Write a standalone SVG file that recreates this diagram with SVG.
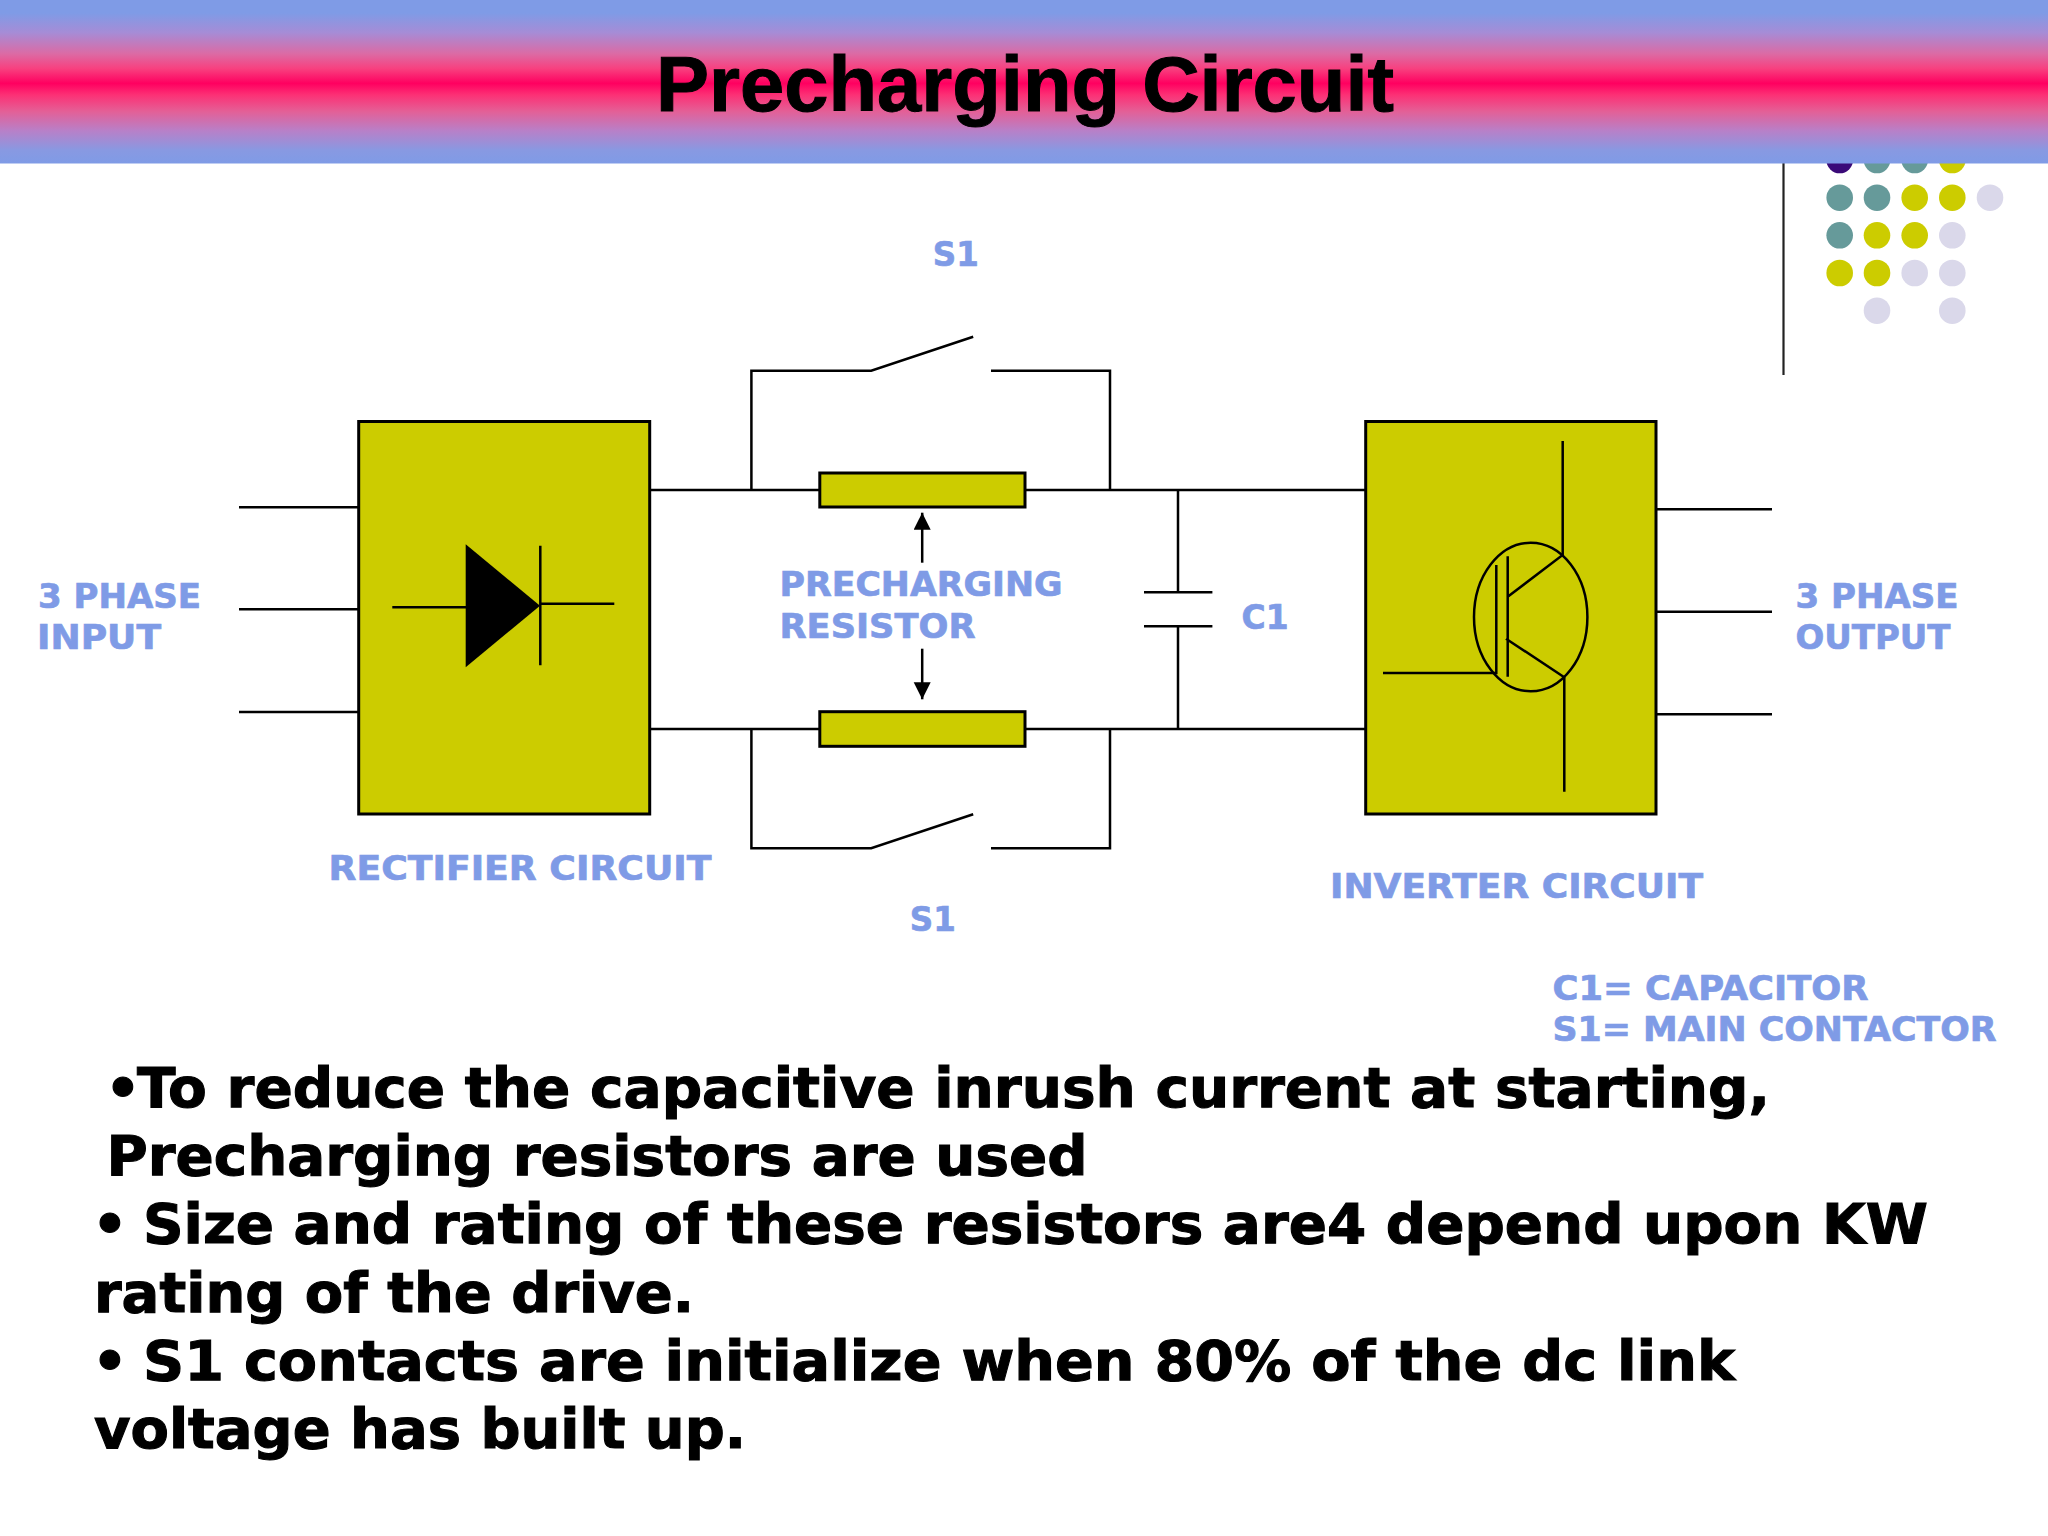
<svg xmlns="http://www.w3.org/2000/svg" width="2048" height="1536" viewBox="0 0 2048 1536">
<style>
.w{fill:none;stroke:#000;stroke-width:2.5}
.t{stroke:#000;stroke-width:3;fill:#cccc00}
.box{fill:#cccc00;stroke:#000;stroke-width:3}
.l{font-family:"DejaVu Sans",Verdana,sans-serif;font-weight:700;font-size:34px;fill:#7f9be6;stroke:#7f9be6;stroke-width:.7}
.b{font-family:"DejaVu Sans",Verdana,sans-serif;font-weight:700;font-size:56px;fill:#000;stroke:#000;stroke-width:1.1}
.d1{fill:#3a0a78}.d2{fill:#669a9a}.d3{fill:#cccc00}.d4{fill:#dad8ea}
</style>
<defs>
<linearGradient id="hdr" x1="0" y1="0" x2="0" y2="1">
<stop offset="0" stop-color="#7f9be6"/><stop offset="0.08" stop-color="#7f9be6"/><stop offset="0.2" stop-color="#a68cd6"/><stop offset="0.33" stop-color="#dc6aa4"/><stop offset="0.42" stop-color="#f8407f"/><stop offset="0.51" stop-color="#ff0060"/><stop offset="0.58" stop-color="#fc3075"/><stop offset="0.68" stop-color="#e45f96"/><stop offset="0.8" stop-color="#b880c8"/><stop offset="0.92" stop-color="#8899e2"/><stop offset="1" stop-color="#7f9be6"/>
</linearGradient>
<marker id="ah" markerUnits="userSpaceOnUse" markerWidth="17" markerHeight="18" refX="17" refY="8.5" orient="auto"><path d="M0 0L17 8.5L0 17Z" fill="#000"/></marker>
</defs>
<rect width="2048" height="1536" fill="#fff"/>
<g id="decor">
<line x1="1783.5" y1="150" x2="1783.5" y2="375" stroke="#222" stroke-width="2.2"/>
<circle class="d1" cx="1839.7" cy="160" r="13.3"/><circle class="d2" cx="1877" cy="160" r="13.3"/><circle class="d2" cx="1914.7" cy="160" r="13.3"/><circle class="d3" cx="1952.3" cy="160" r="13.3"/>
<circle class="d2" cx="1839.7" cy="197.7" r="13.3"/><circle class="d2" cx="1877" cy="197.7" r="13.3"/><circle class="d3" cx="1914.7" cy="197.7" r="13.3"/><circle class="d3" cx="1952.3" cy="197.7" r="13.3"/><circle class="d4" cx="1990" cy="197.7" r="13.3"/>
<circle class="d2" cx="1839.7" cy="235.3" r="13.3"/><circle class="d3" cx="1877" cy="235.3" r="13.3"/><circle class="d3" cx="1914.7" cy="235.3" r="13.3"/><circle class="d4" cx="1952.3" cy="235.3" r="13.3"/>
<circle class="d3" cx="1839.7" cy="273" r="13.3"/><circle class="d3" cx="1877" cy="273" r="13.3"/><circle class="d4" cx="1914.7" cy="273" r="13.3"/><circle class="d4" cx="1952.3" cy="273" r="13.3"/>
<circle class="d4" cx="1877" cy="310.7" r="13.3"/><circle class="d4" cx="1952.3" cy="310.7" r="13.3"/>
</g>
<g id="header">
<rect width="2048" height="163.5" fill="url(#hdr)"/>
<text x="1025" y="111" text-anchor="middle" textLength="738" lengthAdjust="spacingAndGlyphs" font-family="'Liberation Sans',Arial,sans-serif" font-weight="700" font-size="78" fill="#000" stroke="#000" stroke-width="1">Precharging Circuit</text>
</g>
<g id="connectors">
<path class="w" d="M239 507.3H358M239 609.3H358M239 712H358"/>
<path class="w" d="M650 490H1366M650 729H1366"/>
<path class="w" d="M751.4 490V370.7H871.2L973.2 336.7M991 370.7H1110V490"/>
<path class="w" d="M751.4 729V848.3H871.2L973.2 814.3M991 848.3H1110V729"/>
<path class="w" d="M1178 490V592.3M1144 592.3H1212.4M1144 626.3H1212.4M1178 626.3V729"/>
<path class="w" d="M1653 509.3H1772M1653 611.7H1772M1653 714.3H1772"/>
<line class="w" x1="922.2" y1="562.7" x2="922.2" y2="512.7" marker-end="url(#ah)"/>
<line class="w" x1="922.2" y1="648.7" x2="922.2" y2="699.3" marker-end="url(#ah)"/>
</g>
<g id="rectifier">
<rect class="box" x="358.7" y="421.5" width="291" height="392.5"/>
<path d="M465.7 544.3L540 605.7L465.7 667.3Z" fill="#000"/>
<path class="w" d="M392.3 607.3H466M540.3 545.7V665.3M540 603.7H614.3"/>
</g>
<g id="inverter">
<rect class="box" x="1365.7" y="421.5" width="290.3" height="392.5"/>
<ellipse class="w" cx="1530.7" cy="617" rx="56.7" ry="74.3"/>
<path class="w" d="M1562.7 441V555L1507.7 596.7M1496.3 565V673H1383M1507.7 556.3V676.7M1506 638.7L1565 677.7M1564.3 677V791.7"/>
</g>
<g id="resistor-top"><rect class="t" x="819.8" y="473" width="205.2" height="34"/></g>
<g id="resistor-bottom"><rect class="t" x="819.8" y="711.7" width="205.2" height="34.6"/></g>
<g id="labels">
<text class="l" x="932.8" y="265.8" textLength="46" lengthAdjust="spacingAndGlyphs">S1</text>
<text class="l" x="909.8" y="931.3" textLength="46" lengthAdjust="spacingAndGlyphs">S1</text>
<text class="l" x="38" y="607.5" textLength="163" lengthAdjust="spacingAndGlyphs">3 PHASE</text>
<text class="l" x="37" y="648.5" textLength="124" lengthAdjust="spacingAndGlyphs">INPUT</text>
<text class="l" x="779.5" y="596" textLength="283" lengthAdjust="spacingAndGlyphs">PRECHARGING</text>
<text class="l" x="779.5" y="637.8" textLength="196" lengthAdjust="spacingAndGlyphs">RESISTOR</text>
<text class="l" x="1241.5" y="628.7" textLength="47" lengthAdjust="spacingAndGlyphs">C1</text>
<text class="l" x="1795.5" y="607.5" textLength="163" lengthAdjust="spacingAndGlyphs">3 PHASE</text>
<text class="l" x="1795.5" y="648.5" textLength="155" lengthAdjust="spacingAndGlyphs">OUTPUT</text>
<text class="l" x="328.5" y="880" textLength="383" lengthAdjust="spacingAndGlyphs">RECTIFIER CIRCUIT</text>
<text class="l" x="1330" y="897.6" textLength="373" lengthAdjust="spacingAndGlyphs">INVERTER CIRCUIT</text>
<text class="l" x="1552.5" y="1000" textLength="316" lengthAdjust="spacingAndGlyphs">C1= CAPACITOR</text>
<text class="l" x="1552.5" y="1041" textLength="444" lengthAdjust="spacingAndGlyphs">S1= MAIN CONTACTOR</text>
</g>
<g id="body">
<text class="b" y="1107"><tspan x="105">•</tspan><tspan x="137" textLength="1633" lengthAdjust="spacingAndGlyphs">To reduce the capacitive inrush current at starting,</tspan></text>
<text class="b" x="106.5" y="1174.8" textLength="981" lengthAdjust="spacingAndGlyphs">Precharging resistors are used</text>
<text class="b" y="1243.2"><tspan x="92">•</tspan><tspan x="143" textLength="1785" lengthAdjust="spacingAndGlyphs">Size and rating of these resistors are4 depend upon KW</tspan></text>
<text class="b" x="94" y="1311.6" textLength="600" lengthAdjust="spacingAndGlyphs">rating of the drive.</text>
<text class="b" y="1380"><tspan x="92">•</tspan><tspan x="143" textLength="1592" lengthAdjust="spacingAndGlyphs">S1 contacts are initialize when 80% of the dc link</tspan></text>
<text class="b" x="94" y="1448.4" textLength="652" lengthAdjust="spacingAndGlyphs">voltage has built up.</text>
</g>
</svg>
